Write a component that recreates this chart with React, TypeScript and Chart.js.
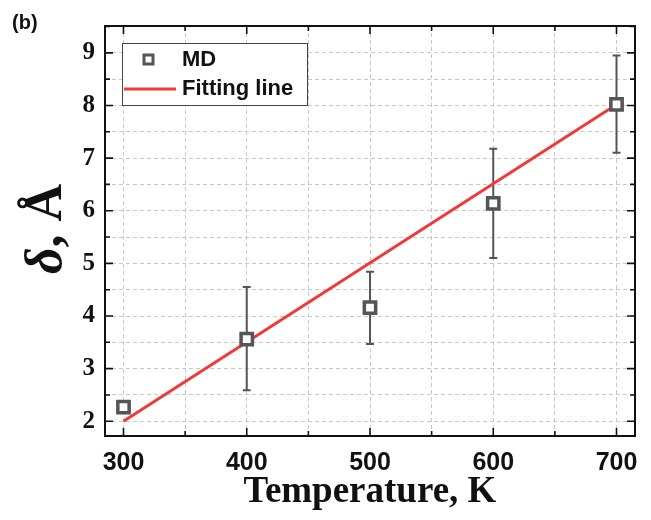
import { useEffect, useRef } from 'react';
import { Chart, registerables } from 'chart.js';

Chart.register(...registerables);

const temperatures = [300, 400, 500, 600, 700];
const mdValues = [2.27, 3.56, 4.16, 6.14, 8.02];
const errLower = [2.27, 2.59, 3.47, 5.1, 7.1];
const errUpper = [2.27, 4.55, 4.84, 7.18, 8.95];
const fitTemperatures = [300, 700];
const fitValues = [2.0, 8.02];
const xTickLabels = [300, 400, 500, 600, 700];
const yTickLabels = [2, 3, 4, 5, 6, 7, 8, 9];
const seriesLabels = ['MD', 'Fitting line'];
const xTitle = 'Temperature, K';
const panelLabel = '(b)';

const GRAY = '#555555';
const RED = '#f03a3a';
const SERIF = '"Liberation Serif", "Times New Roman", serif';
const SANS = '"Liberation Sans", Arial, sans-serif';

const decorPlugin = {
  id: 'decor',
  beforeDatasetsDraw(chart: any) {
    const { ctx, scales } = chart;
    const x = scales.x;
    const y = scales.y;
    ctx.save();
    ctx.strokeStyle = GRAY;
    ctx.lineWidth = 2;
    temperatures.forEach((t, i) => {
      const px = x.getPixelForValue(t);
      const y1 = y.getPixelForValue(errLower[i]);
      const y2 = y.getPixelForValue(errUpper[i]);
      if (Math.abs(y1 - y2) < 1) return;
      ctx.beginPath();
      ctx.moveTo(px, y1);
      ctx.lineTo(px, y2);
      ctx.moveTo(px - 4, y1);
      ctx.lineTo(px + 4, y1);
      ctx.moveTo(px - 4, y2);
      ctx.lineTo(px + 4, y2);
      ctx.stroke();
    });
    ctx.restore();
  },
  afterDraw(chart: any) {
    const { ctx, chartArea: a, scales } = chart;
    const x = scales.x;
    const y = scales.y;
    ctx.save();
    // frame
    ctx.strokeStyle = '#111';
    ctx.lineWidth = 2;
    ctx.strokeRect(a.left, a.top, a.right - a.left, a.bottom - a.top);
    // inward ticks
    ctx.lineWidth = 1.6;
    x.ticks.forEach((tk: any) => {
      const px = x.getPixelForValue(tk.value);
      const major = xTickLabels.includes(tk.value);
      const len = major ? 8 : 5;
      ctx.beginPath();
      ctx.moveTo(px, a.bottom);
      ctx.lineTo(px, a.bottom - len);
      ctx.moveTo(px, a.top);
      ctx.lineTo(px, a.top + len);
      ctx.stroke();
    });
    y.ticks.forEach((tk: any) => {
      const py = y.getPixelForValue(tk.value);
      const major = yTickLabels.includes(tk.value);
      const len = major ? 8 : 5;
      ctx.beginPath();
      ctx.moveTo(a.left, py);
      ctx.lineTo(a.left + len, py);
      ctx.moveTo(a.right, py);
      ctx.lineTo(a.right - len, py);
      ctx.stroke();
    });

    // legend
    const lx = a.left + 17;
    const ly = a.top + 17;
    const lw = 185;
    const lh = 62;
    ctx.fillStyle = '#ffffff';
    ctx.fillRect(lx, ly, lw, lh);
    ctx.strokeStyle = '#444';
    ctx.lineWidth = 1;
    ctx.strokeRect(lx + 0.5, ly + 0.5, lw, lh);
    // MD marker
    ctx.strokeStyle = GRAY;
    ctx.lineWidth = 3;
    ctx.fillStyle = '#fff';
    ctx.beginPath();
    ctx.rect(lx + 22, ly + 12, 9, 9);
    ctx.fill();
    ctx.stroke();
    // red line
    ctx.strokeStyle = RED;
    ctx.lineWidth = 3;
    ctx.beginPath();
    ctx.moveTo(lx + 2, ly + 46);
    ctx.lineTo(lx + 54, ly + 46);
    ctx.stroke();
    ctx.fillStyle = '#111';
    ctx.font = `bold 22px ${SANS}`;
    ctx.textAlign = 'left';
    ctx.textBaseline = 'middle';
    ctx.fillText(chart.data.datasets[0].label, lx + 60, ly + 17);
    ctx.fillText(chart.data.datasets[1].label, lx + 60, ly + 46);

    // panel label
    ctx.font = `bold 20px ${SANS}`;
    ctx.fillText(panelLabel, 12, 23);

    // y title: δ, Å
    ctx.save();
    ctx.translate(61, (a.top + a.bottom) / 2 - 2);
    ctx.rotate(-Math.PI / 2);
    ctx.textBaseline = 'alphabetic';
    const fItal = `italic bold 52px ${SERIF}`;
    const fBold = `bold 52px ${SERIF}`;
    ctx.font = fItal;
    const w1 = ctx.measureText('δ').width;
    ctx.font = fBold;
    const w2 = ctx.measureText(', Å').width;
    const start = -(w1 + w2) / 2;
    ctx.font = fItal;
    ctx.fillText('δ', start, 0);
    ctx.font = fBold;
    ctx.fillText(', Å', start + w1, 0);
    ctx.restore();

    ctx.restore();
  },
};

export default function App() {
  const ref = useRef<HTMLCanvasElement | null>(null);
  useEffect(() => {
    if (!ref.current) return;
    const chart = new Chart(ref.current, {
      type: 'scatter',
      data: {
        datasets: [
          {
            label: seriesLabels[0],
            data: temperatures.map((t, i) => ({ x: t, y: mdValues[i] })),
            pointStyle: 'rect',
            pointRadius: 8,
            pointBorderWidth: 3.5,
            pointBackgroundColor: '#ffffff',
            pointBorderColor: GRAY,
            showLine: false,
          },
          {
            label: seriesLabels[1],
            data: fitTemperatures.map((t, i) => ({ x: t, y: fitValues[i] })),
            showLine: true,
            borderColor: RED,
            borderWidth: 3,
            pointRadius: 0,
          },
        ],
      },
      options: {
        animation: false,
        responsive: false,
        layout: { padding: { left: 0, top: 26, right: 16, bottom: 0 } },
        plugins: { legend: { display: false }, tooltip: { enabled: false } },
        scales: {
          x: {
            type: 'linear',
            min: 285,
            max: 715,
            afterFit: (s: any) => {
              s.height = 84;
            },
            ticks: {
              stepSize: 50,
              includeBounds: false,
              autoSkip: false,
              maxRotation: 0,
              padding: 12,
              color: '#111',
              font: { family: SANS, weight: 'bold', size: 25 },
              callback: (v: any) => (xTickLabels.includes(v) ? String(v) : ''),
            },
            grid: { color: '#c8c8c8', lineWidth: 1, drawTicks: false },
            border: { display: false, dash: [4, 3] },
            title: {
              display: true,
              text: xTitle,
              color: '#111',
              font: { family: SERIF, weight: 'bold', size: 37 },
              padding: { top: 0, bottom: 5 },
            },
          },
          y: {
            type: 'linear',
            min: 1.72,
            max: 9.51,
            afterFit: (s: any) => {
              s.width = 105;
            },
            ticks: {
              stepSize: 0.5,
              includeBounds: false,
              autoSkip: false,
              padding: 10,
              color: '#111',
              font: { family: SERIF, weight: 'bold', size: 25 },
              callback: (v: any) => (yTickLabels.includes(v) ? String(v) : ''),
            },
            grid: { color: '#c8c8c8', lineWidth: 1, drawTicks: false },
            border: { display: false, dash: [4, 3] },
          },
        },
      },
      plugins: [decorPlugin],
    } as any);
    return () => chart.destroy();
  }, []);
  return (
    <div style={{ position: 'absolute', left: 0, top: 0, width: 651, height: 520, background: '#fff' }}>
      <canvas ref={ref} width={651} height={520} />
    </div>
  );
}
